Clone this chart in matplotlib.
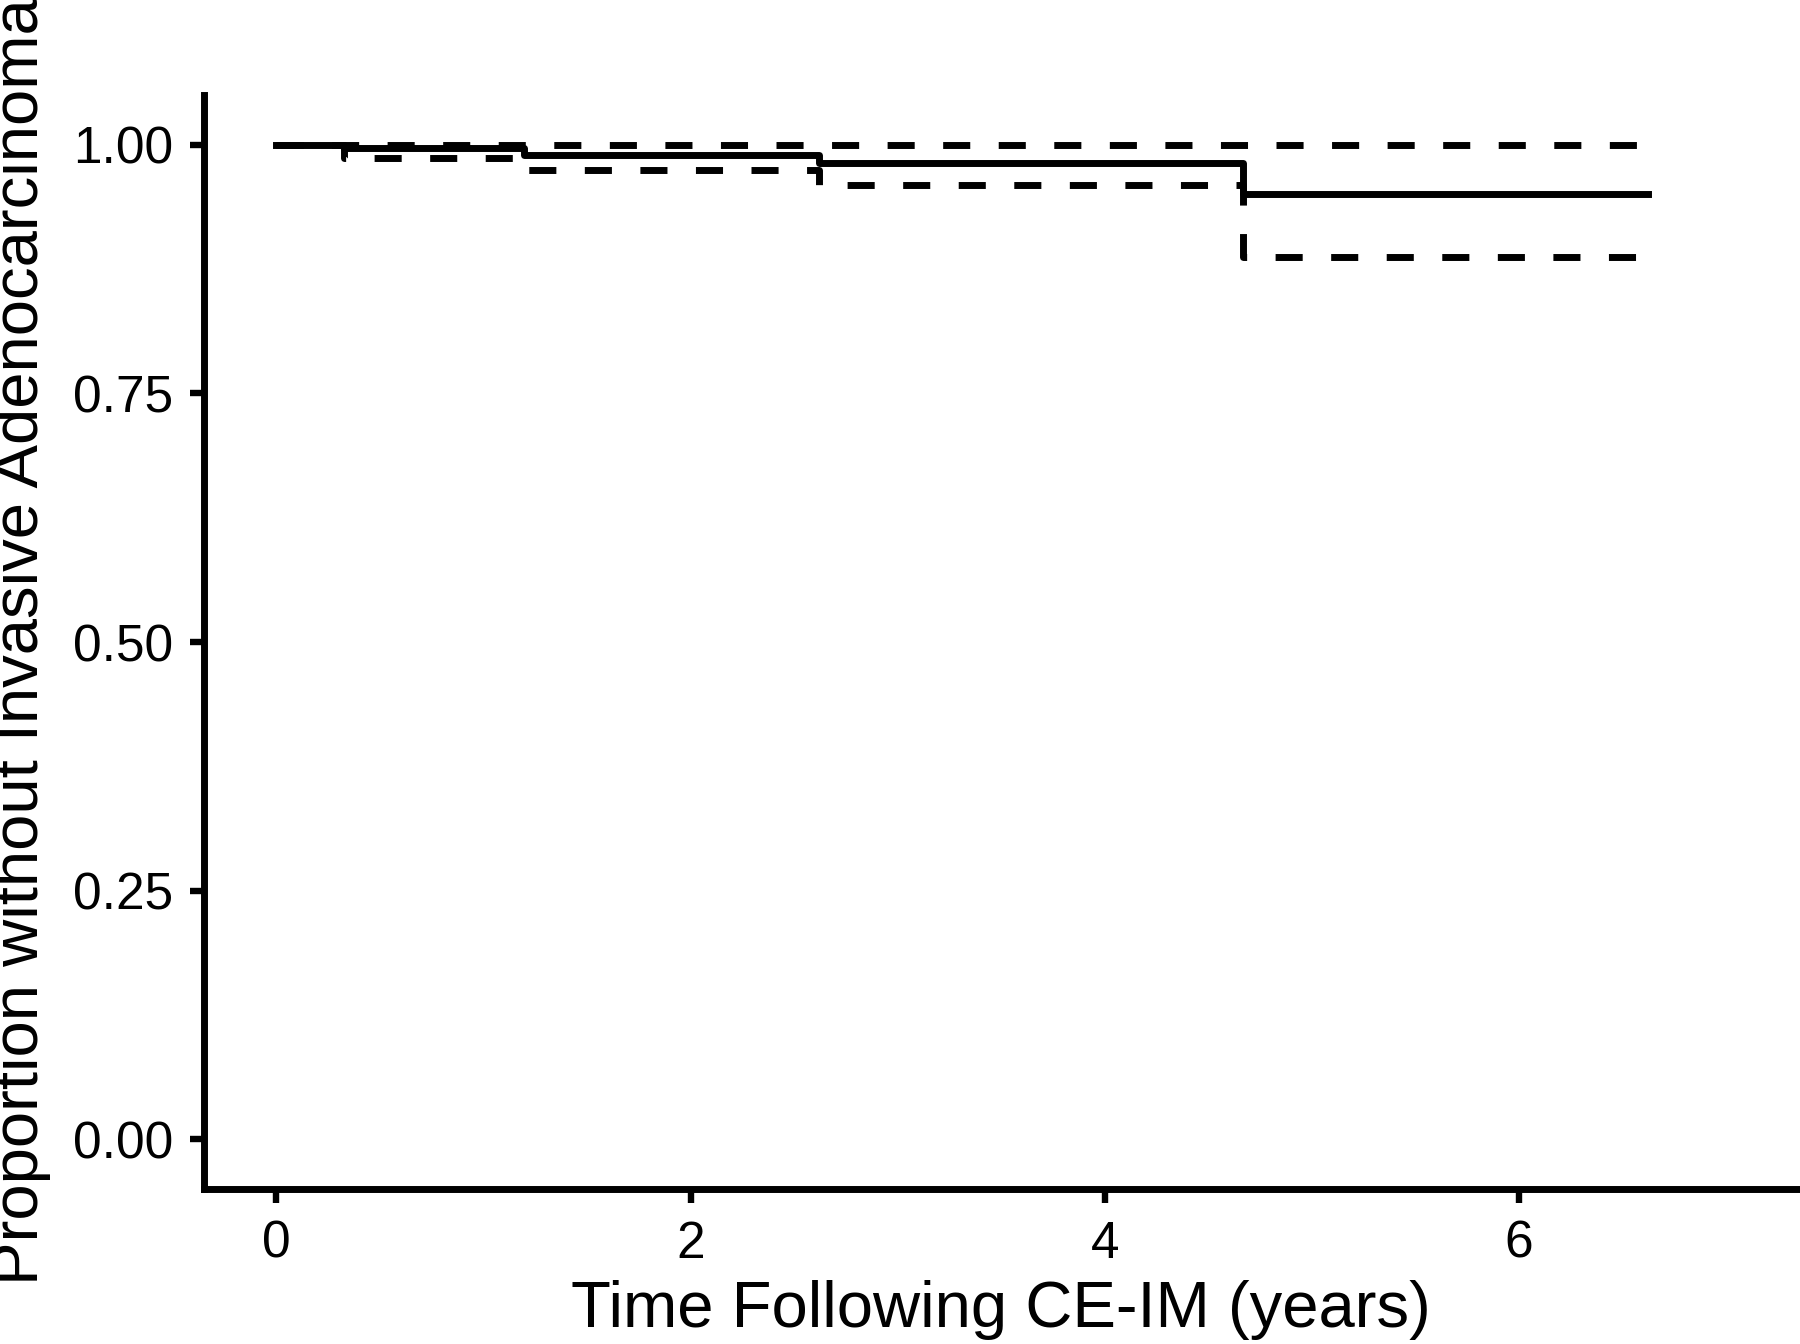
import matplotlib
matplotlib.use("Agg")
import matplotlib.pyplot as plt

# Kaplan-Meier estimate and 95% CI
time = [0, 0.325, 1.196, 2.62, 4.666, 6.62]
surv = [1.0, 0.997, 0.990, 0.9815, 0.950, 0.950]
upper = [1.0, 1.0, 1.0, 1.0, 1.0, 1.0]
lower = [1.0, 0.987, 0.975, 0.960, 0.887, 0.887]

x_ticks = [0, 2, 4, 6]
y_ticks = [0.00, 0.25, 0.50, 0.75, 1.00]
y_ticklabels = ["0.00", "0.25", "0.50", "0.75", "1.00"]

plt.rcParams['font.family'] = ['Liberation Sans', 'DejaVu Sans']

fig = plt.figure(figsize=(9, 6.72), dpi=200)
ax = fig.add_axes([0.1133, 0.1153, 0.886, 0.814])

lw = 2.5
ax.step(time, surv, where='post', color='black', lw=lw)
ax.step(time, upper, where='post', color='black', lw=lw, linestyle=(0, (3.9, 4.1)))
ax.step(time, lower, where='post', color='black', lw=lw, linestyle=(0, (3.9, 4.1)))

ax.set_xlim(-0.35, 7.35)
ax.set_ylim(-0.05, 1.05)
ax.set_xticks(x_ticks)
ax.set_yticks(y_ticks)
ax.set_yticklabels(y_ticklabels)

for s in ['top', 'right']:
    ax.spines[s].set_visible(False)
for s in ['left', 'bottom']:
    ax.spines[s].set_linewidth(2.5)
ax.tick_params(axis='both', length=5, width=2.3, labelsize=18.5, pad=6, color='black')

ax.set_xlabel("Time Following CE-IM (years)", fontsize=23.5, labelpad=4)
ax.set_ylabel("Proportion without Invasive Adenocarcinoma", fontsize=23.5, labelpad=8)

fig.savefig("out.png", dpi=200)
